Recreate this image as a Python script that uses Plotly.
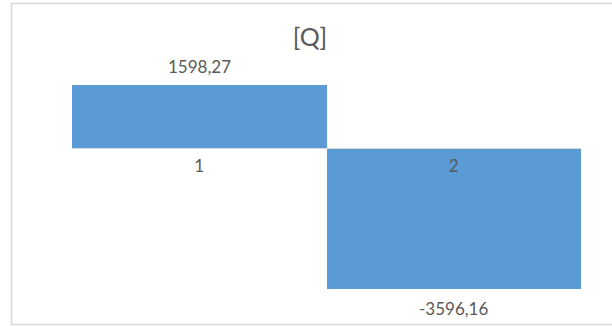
import plotly.graph_objects as go

categories = ["1", "2"]
values = [1598.27, -3596.16]
value_labels = ["1598,27", "-3596,16"]
title_text = "[Q]"

W, H = 612, 327
L, R, T, B = 72, 31, 69, 22
ymin, ymax = -4000, 2000
pw, ph = W - L - R, H - T - B

def px_x(px):
    return (px - L) / pw

def px_y(py):
    return (H - B - py) / ph

FONT = "Lato, Open Sans, sans-serif"
GREY = "#595959"

fig = go.Figure()
fig.add_trace(go.Bar(
    x=categories, y=values,
    marker=dict(color="#5b9bd5", line=dict(width=0)),
    hoverinfo="skip",
))

for i, (v, t) in enumerate(zip(values, value_labels)):
    fig.add_annotation(x=i, y=v, text=t, showarrow=False,
                       yshift=18 if v > 0 else -19,
                       font=dict(family=FONT, size=17, color=GREY))

zero_frac = (0 - ymin) / (ymax - ymin)

fig.update_layout(
    width=W, height=H,
    margin=dict(l=L, r=R, t=T, b=B),
    paper_bgcolor="white", plot_bgcolor="white",
    font=dict(family=FONT, color=GREY),
    showlegend=False, bargap=0,
    title=dict(text=title_text, x=310 / W, xanchor="center",
               y=1 - 37 / H, yanchor="middle",
               font=dict(size=25, color=GREY)),
    xaxis=dict(type="category", range=[-0.5, len(categories) - 0.5],
               anchor="free", position=zero_frac,
               showline=True, linecolor="#d9d9d9", linewidth=1,
               ticks="", showgrid=False, zeroline=False,
               tickfont=dict(size=17, color=GREY), ticklabelstandoff=3,
               layer="above traces"),
    yaxis=dict(range=[ymin, ymax], visible=False, showgrid=False, zeroline=False),
)

fig.add_shape(type="rect", xref="paper", yref="paper",
              x0=px_x(11.5), x1=px_x(640), y0=px_y(3.5), y1=px_y(324.5),
              line=dict(color="#d9d9d9", width=1.5), fillcolor="rgba(0,0,0,0)",
              layer="below")

fig.write_html("out.html")
